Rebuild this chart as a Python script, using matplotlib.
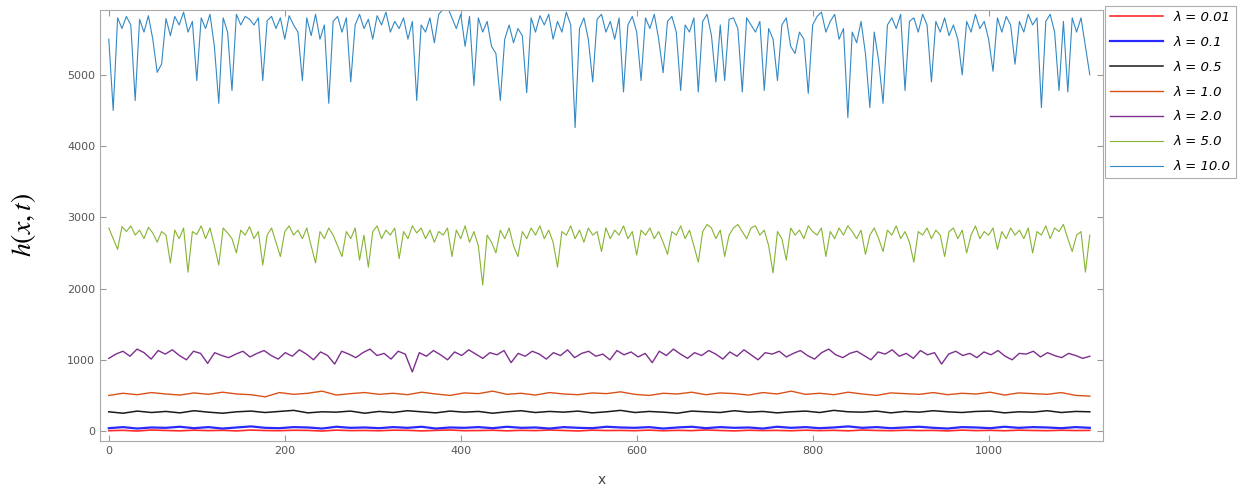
import numpy as np
import matplotlib
matplotlib.use("Agg")
import matplotlib.pyplot as plt

plt.rcParams["mathtext.fontset"] = "stix"

X_END = 1115

labels = ["λ = 0.01", "λ = 0.1", "λ = 0.5", "λ = 1.0", "λ = 2.0", "λ = 5.0", "λ = 10.0"]
colors = ["#ff2a2a", "#2a2aff", "#1a1a1a", "#d95319", "#7e2f8e", "#86b432", "#3389c4"]

h_001 = [5,10,0,15,8,3,12,6,10,2, 14,7,5,11,9,0,13,6,8,4, 12,10,2,9,15,5,7,11,3,10,
         6,14,8,1,12,7,9,5,13,4, 10,6,15,8,2,11,7,9,4,12, 6,10,3,14,8,5,11,7,9,2,
         13,6,10,4,12,8,5,11,7,9]
h_01 = [40,55,35,50,45,60,40,55,35,50, 65,45,40,55,50,35,60,45,50,40, 55,45,60,35,50,45,55,40,60,45,
        50,35,55,45,40,60,50,45,55,35, 50,60,40,55,45,50,35,60,45,55, 40,50,65,45,55,40,50,60,45,35,
        55,50,40,60,45,55,50,40,55,45]
h_05 = [270,250,280,260,275,255,285,265,250,270, 280,260,275,290,255,270,265,280,250,275,
        260,285,270,255,280,265,275,250,270,285, 260,275,265,280,255,270,290,260,275,265,
        250,280,270,260,285,265,275,255,270,280, 260,290,270,265,280,255,275,265,285,270,
        260,275,280,255,270,265,285,260,275,270]
h_1 = [500,530,510,540,520,505,535,515,545,520, 510,480,540,515,530,560,505,525,540,515,
       530,510,545,520,500,535,525,560,515,530, 505,540,520,510,535,525,550,515,500,530,
       520,545,510,535,525,505,540,520,560,515, 530,510,545,520,500,535,525,515,540,510,
       530,520,545,505,535,525,515,540,500,490]
h_2 = [1020,1080,1120,1050,1150,1100,1010,1130,1080,1140, 1060,1000,1120,1090,950,1100,1060,1030,1080,1120,
       1040,1090,1130,1060,1010,1100,1050,1140,1080,1000, 1110,1060,940,1120,1080,1030,1100,1150,1060,1090,
       1010,1120,1080,830,1100,1050,1130,1070,1000,1110, 1060,1140,1080,1020,1100,1070,1130,960,1090,1050,
       1120,1080,1010,1100,1060,1140,1030,1090,1120,1050, 1080,1000,1130,1070,1110,1040,1090,960,1120,1060,
       1150,1080,1020,1100,1060,1130,1080,1010,1110,1050, 1140,1070,1000,1100,1080,1120,1040,1090,1130,1060,
       1010,1100,1150,1070,1030,1090,1120,1060,1000,1110, 1080,1140,1050,1090,1020,1130,1070,1100,940,1080,
       1120,1060,1090,1030,1110,1070,1130,1050,1000,1090, 1080,1120,1040,1100,1060,1030,1090,1060,1020,1050]
h_5 = [2850,2700,2550,2870,2800,2880,2750,2820,2700,2860, 2780,2650,2800,2750,2360,2820,2700,2850,2230,2800,
       2760,2880,2700,2850,2600,2330,2850,2780,2700,2500, 2820,2750,2870,2700,2800,2330,2750,2850,2650,2450,
       2800,2880,2750,2820,2700,2850,2600,2360,2800,2700, 2850,2750,2600,2450,2800,2700,2850,2400,2750,2300,
       2800,2880,2700,2820,2750,2850,2420,2800,2700,2880, 2780,2850,2700,2820,2650,2800,2750,2850,2450,2820,
       2700,2880,2650,2800,2600,2050,2750,2650,2500,2820, 2700,2850,2600,2450,2800,2700,2850,2750,2880,2700,
       2820,2650,2300,2800,2750,2880,2700,2820,2650,2850, 2750,2800,2520,2850,2700,2820,2750,2880,2700,2800,
       2470,2820,2750,2850,2700,2800,2650,2480,2800,2750, 2880,2700,2820,2600,2370,2800,2900,2850,2700,2820,
       2450,2750,2850,2900,2800,2700,2850,2880,2750,2820, 2600,2220,2800,2700,2400,2850,2750,2820,2700,2880,
       2800,2750,2850,2450,2800,2700,2850,2750,2880,2800, 2700,2820,2480,2750,2850,2700,2520,2820,2750,2880,
       2700,2800,2650,2370,2800,2750,2850,2700,2820,2750, 2450,2800,2850,2700,2820,2500,2750,2880,2700,2800,
       2750,2850,2550,2800,2700,2850,2750,2820,2700,2850, 2500,2800,2750,2880,2700,2850,2800,2900,2700,2520,
       2750,2800,2230,2750]
h_10 = [5500,4500,5800,5650,5820,5700,4640,5780,5600,5830, 5500,5035,5150,5790,5550,5820,5700,5880,5600,5750,
        4920,5800,5650,5850,5400,4600,5800,5600,4780,5850, 5700,5820,5780,5700,5800,4920,5760,5820,5650,5800,
        5500,5830,5700,5600,4920,5800,5550,5850,5500,5700, 4600,5750,5820,5600,5800,4900,5700,5850,5650,5780,
        5500,5830,5700,5880,5600,5750,5650,5800,5500,5750, 4640,5700,5600,5800,5450,5850,5920,5950,5800,5650,
        5850,5400,5820,4850,5800,5600,5750,5400,5300,4640, 5500,5700,5450,5650,5550,4750,5800,5600,5830,5700,
        5850,5500,5750,5600,5880,5700,4260,5650,5800,5500, 4900,5780,5850,5600,5750,5500,5800,4760,5700,5820,
        5600,4920,5800,5650,5850,5500,5030,5750,5820,5600, 4780,5700,5600,5800,4760,5750,5850,5550,4900,5700,
        4920,5780,5800,5650,4760,5800,5700,5600,5750,4780, 5650,5500,4920,5700,5800,5400,5300,5600,5500,4740,
        5700,5820,5880,5600,5750,5850,5500,5650,4400,5600, 5450,5750,5300,4540,5600,5200,4600,5700,5800,5650,
        5850,4780,5750,5800,5600,5850,5700,4900,5750,5600, 5800,5550,5700,5500,5000,5750,5600,5850,5650,5750,
        5500,5050,5800,5600,5820,5700,5150,5750,5600,5850, 5700,5800,4540,5750,5850,5600,4780,5750,4760,5800,
        5600,5800,5400,5000]

series = [h_001, h_01, h_05, h_1, h_2, h_5, h_10]
widths = [1.2, 1.6, 1.1, 1.0, 1.0, 0.8, 0.8]

fig = plt.figure(figsize=(12.5, 4.88), dpi=100)
ax = fig.add_axes([0.08, 0.0963, 0.8024, 0.8832])

for vals, lab, col, lw in zip(series, labels, colors, widths):
    xs = np.linspace(0, X_END, len(vals))
    ax.plot(xs, vals, color=col, lw=lw, label=lab)

ax.set_xlim(-10, 1130)
ax.set_ylim(-140, 5910)
ax.set_xticks([0, 200, 400, 600, 800, 1000])
ax.set_yticks([0, 1000, 2000, 3000, 4000, 5000])
ax.tick_params(direction="in", length=4, labelsize=8, labelcolor="#555555", color="#999999",
               top=True, right=True)
for s in ax.spines.values():
    s.set_color("#aaaaaa")
    s.set_linewidth(0.8)

ax.set_xlabel("x", fontsize=10, color="#444444")
ax.xaxis.set_label_coords(0.5, -0.075)
ax.set_ylabel(r"$\boldsymbol{h(x,t)}$" if False else r"$h(x,t)$", fontsize=20)
ax.yaxis.set_label_coords(-0.062, 0.5)

leg = ax.legend(loc="upper left", bbox_to_anchor=(1.002, 1.01),
                frameon=True, fancybox=False, edgecolor="#999999", handlelength=4.0,
                labelspacing=0.9, borderaxespad=0.0, prop={"style": "italic", "size": 9.5})
leg.get_frame().set_linewidth(0.8)

fig.savefig("out.png", dpi=100)
